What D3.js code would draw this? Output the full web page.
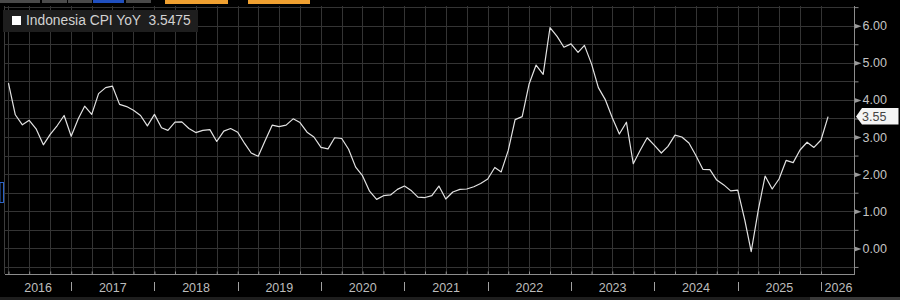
<!DOCTYPE html>
<html>
<head>
<meta charset="utf-8">
<script src="https://cdn.jsdelivr.net/npm/d3@7"></script>
<style>
  html, body { margin: 0; padding: 0; background: #000; }
  svg { display: block; font-family: "Liberation Sans", Arial, sans-serif; }
</style>
</head>
<body>
<div id="app"></div>
<script>
// series meta
const seriesName = "Indonesia CPI YoY";
const lastValueText = "3.5475";
const lastValueTag = "3.55";
const firstMonth = { year: 2016, month: 2 }; // March 2016 (0-based month)

// monthly CPI YoY (%), Mar 2016 -> Jan 2026
const cpi2016 = [4.45, 3.60, 3.33, 3.45, 3.21, 2.79, 3.07, 3.31, 3.58, 3.02];
const cpi2017 = [3.49, 3.83, 3.61, 4.17, 4.33, 4.37, 3.88, 3.82, 3.72, 3.58, 3.30, 3.61];
const cpi2018 = [3.25, 3.18, 3.40, 3.41, 3.23, 3.12, 3.18, 3.20, 2.88, 3.16, 3.23, 3.13];
const cpi2019 = [2.82, 2.57, 2.48, 2.90, 3.32, 3.28, 3.32, 3.49, 3.39, 3.13, 3.00, 2.72];
const cpi2020 = [2.68, 2.98, 2.96, 2.67, 2.19, 1.96, 1.54, 1.32, 1.42, 1.44, 1.59, 1.68];
const cpi2021 = [1.55, 1.38, 1.37, 1.42, 1.68, 1.33, 1.52, 1.59, 1.60, 1.66, 1.75, 1.87];
const cpi2022 = [2.18, 2.06, 2.64, 3.47, 3.55, 4.42, 4.94, 4.69, 5.95, 5.71, 5.42, 5.51];
const cpi2023 = [5.28, 5.47, 4.97, 4.33, 4.00, 3.52, 3.08, 3.40, 2.28, 2.65, 2.98, 2.78];
const cpi2024 = [2.57, 2.75, 3.05, 3.00, 2.84, 2.51, 2.13, 2.12, 1.84, 1.71, 1.55, 1.57];
const cpi2025 = [0.76, -0.09, 1.03, 1.95, 1.60, 1.87, 2.37, 2.31, 2.65, 2.86, 2.72, 2.92];
const cpi2026 = [3.55];

// axes
const yTicks = [0, 1, 2, 3, 4, 5, 6];
const yHalfTicks = [-0.5, 0.5, 1.5, 2.5, 3.5, 4.5, 5.5, 6.5];
const yearLabels = [2016, 2017, 2018, 2019, 2020, 2021, 2022, 2023, 2024, 2025, 2026];

const width = 900;
const height = 300;
const plot = { left: 5, right: 854, top: 6, bottom: 274 };

const values = [].concat(cpi2016, cpi2017, cpi2018, cpi2019, cpi2020, cpi2021,
  cpi2022, cpi2023, cpi2024, cpi2025, cpi2026);

// points sit at month end
const data = values.map((v, i) => ({
  date: new Date(Date.UTC(firstMonth.year, firstMonth.month + i + 1, 1)),
  value: v,
}));

const x = d3
  .scaleUtc()
  .domain([new Date(Date.UTC(2016, 0, 1)), new Date(Date.UTC(2026, 0, 1))])
  .range([-12.3, 821]);

const y = d3
  .scaleLinear()
  .domain([-0.69, 6.53])
  .range([plot.bottom, plot.top]);

const svg = d3
  .select("#app")
  .append("svg")
  .attr("width", width)
  .attr("height", height);

svg.append("rect").attr("width", width).attr("height", height).attr("fill", "#000");

svg
  .append("defs")
  .append("clipPath")
  .attr("id", "plot-clip")
  .append("rect")
  .attr("x", plot.left)
  .attr("y", plot.top)
  .attr("width", plot.right - plot.left)
  .attr("height", plot.bottom - plot.top);

// grid
const quarters = d3.utcMonth
  .every(3)
  .range(new Date(Date.UTC(2016, 0, 1)), new Date(Date.UTC(2026, 1, 1)))
  .filter((d) => x(d) > plot.left + 1);

const grid = svg.append("g").attr("clip-path", "url(#plot-clip)");

grid
  .selectAll("line.h")
  .data(yTicks.concat(yHalfTicks))
  .join("line")
  .attr("class", "h")
  .attr("x1", plot.left)
  .attr("x2", plot.right)
  .attr("y1", (d) => Math.round(y(d)) + 0.5)
  .attr("y2", (d) => Math.round(y(d)) + 0.5)
  .attr("stroke", "#343434");

grid
  .selectAll("line.v")
  .data(quarters)
  .join("line")
  .attr("class", "v")
  .attr("x1", (d) => Math.round(x(d)) + 0.5)
  .attr("x2", (d) => Math.round(x(d)) + 0.5)
  .attr("y1", plot.top)
  .attr("y2", plot.bottom)
  .attr("stroke", "#343434");

// left frame line
svg
  .append("line")
  .attr("x1", plot.left - 0.5)
  .attr("x2", plot.left - 0.5)
  .attr("y1", plot.top)
  .attr("y2", plot.bottom)
  .attr("stroke", "#3c3c3c");

// series line
svg
  .append("path")
  .datum(data)
  .attr("clip-path", "url(#plot-clip)")
  .attr("fill", "none")
  .attr("stroke", "#e2e2e2")
  .attr("stroke-width", 1.2)
  .attr("stroke-linejoin", "round")
  .attr("d", d3.line().x((d) => x(d.date)).y((d) => y(d.value)));

// right axis: minor ticks
svg
  .append("g")
  .attr("transform", `translate(${plot.right + 0.5},0)`)
  .call(d3.axisRight(y).tickValues(yHalfTicks).tickSize(4).tickFormat(""))
  .call((g) => g.select(".domain").remove())
  .selectAll("line")
  .attr("stroke", "#8c8c8c");

// right axis: major ticks + labels
const yAxis = svg
  .append("g")
  .attr("transform", `translate(${plot.right + 0.5},0)`)
  .call(
    d3
      .axisRight(y)
      .tickValues(yTicks)
      .tickSize(0)
      .tickPadding(8)
      .tickFormat(d3.format(".2f"))
  );

yAxis.select(".domain").remove();
yAxis
  .selectAll("text")
  .attr("fill", "#c4c4c4")
  .attr("font-size", 12.5)
  .attr("font-family", '"Liberation Sans", Arial, sans-serif');
yAxis
  .selectAll(".tick")
  .append("path")
  .attr("d", "M0,-2.5L7,0L0,2.5Z")
  .attr("fill", "#9a9a9a");

svg
  .append("line")
  .attr("x1", plot.right + 0.5)
  .attr("x2", plot.right + 0.5)
  .attr("y1", plot.top)
  .attr("y2", plot.bottom)
  .attr("stroke", "#8c8c8c");

// bottom axis: quarter ticks
const xAxis = svg
  .append("g")
  .attr("transform", `translate(0,${plot.bottom + 0.5})`)
  .call(d3.axisBottom(x).tickValues(quarters).tickSize(-3).tickFormat(""));
xAxis.select(".domain").remove();
xAxis.selectAll("line").attr("stroke", "#8c8c8c");

svg
  .append("line")
  .attr("x1", plot.left)
  .attr("x2", plot.right + 1)
  .attr("y1", plot.bottom + 0.5)
  .attr("y2", plot.bottom + 0.5)
  .attr("stroke", "#8c8c8c");

// year separators and labels
const yearStarts = yearLabels.slice(1).map((yr) => new Date(Date.UTC(yr, 0, 1)));

svg
  .append("g")
  .selectAll("line")
  .data(yearStarts)
  .join("line")
  .attr("x1", (d) => Math.round(x(d)) + 0.5)
  .attr("x2", (d) => Math.round(x(d)) + 0.5)
  .attr("y1", 282)
  .attr("y2", 291)
  .attr("stroke", "#a0a0a0");

svg
  .append("g")
  .selectAll("text")
  .data(yearLabels)
  .join("text")
  .attr("x", (yr) => {
    const a = Math.max(plot.left, x(new Date(Date.UTC(yr, 0, 1))));
    const b = Math.min(plot.right, x(new Date(Date.UTC(yr + 1, 0, 1))));
    return (a + b) / 2 + (yr === 2026 ? 1 : 0);
  })
  .attr("y", 292)
  .attr("text-anchor", "middle")
  .attr("fill", "#bdbdbd")
  .attr("font-size", 12.5)
  .text((d) => d);

// last value tag
const tagY = y(cpi2026[cpi2026.length - 1]);
const tag = svg.append("g").attr("transform", `translate(856,${tagY})`);
tag
  .append("path")
  .attr("d", "M0,0L6,-8.5H42.5V8H6Z")
  .attr("fill", "#f4f4f4");
tag
  .append("text")
  .attr("x", 6)
  .attr("y", 4.5)
  .attr("fill", "#444")
  .attr("font-size", 12.5)
  .text(lastValueTag);

// legend
svg.append("rect").attr("x", 3).attr("y", 10).attr("width", 195).attr("height", 22).attr("fill", "#1e1e1e");
svg.append("rect").attr("x", 12).attr("y", 16).attr("width", 9).attr("height", 9).attr("fill", "#fff");
svg
  .append("text")
  .attr("x", 26)
  .attr("y", 25)
  .attr("fill", "#d2d2d2")
  .attr("font-size", 13.8)
  .attr("xml:space", "preserve")
  .text(`${seriesName}  ${lastValueText}`);

// terminal chrome remnants
const topBar = [
  { x: 0, w: 40, c: "#4a4a4a" },
  { x: 42, w: 25, c: "#4a4a4a" },
  { x: 68, w: 24, c: "#4a4a4a" },
  { x: 93, w: 31, c: "#1f4fbf" },
  { x: 126, w: 25, c: "#4a4a4a" },
  { x: 165, w: 63, c: "#f0a030" },
  { x: 248, w: 62, c: "#f0a030" },
];
svg
  .append("g")
  .selectAll("rect")
  .data(topBar)
  .join("rect")
  .attr("x", (d) => d.x)
  .attr("y", 0)
  .attr("width", (d) => d.w)
  .attr("height", (d) => (d.c === "#f0a030" ? 4 : 3))
  .attr("fill", (d) => d.c);

svg.append("rect").attr("x", 0).attr("y", 182.5).attr("width", 3.5).attr("height", 20).attr("fill", "none").attr("stroke", "#2a63c9");
svg.append("rect").attr("x", 0).attr("y", 297).attr("width", width).attr("height", 3).attr("fill", "#1e1e1e");
svg.append("rect").attr("x", 810).attr("y", 297).attr("width", 90).attr("height", 3).attr("fill", "#3a3a3a");
</script>
</body>
</html>
